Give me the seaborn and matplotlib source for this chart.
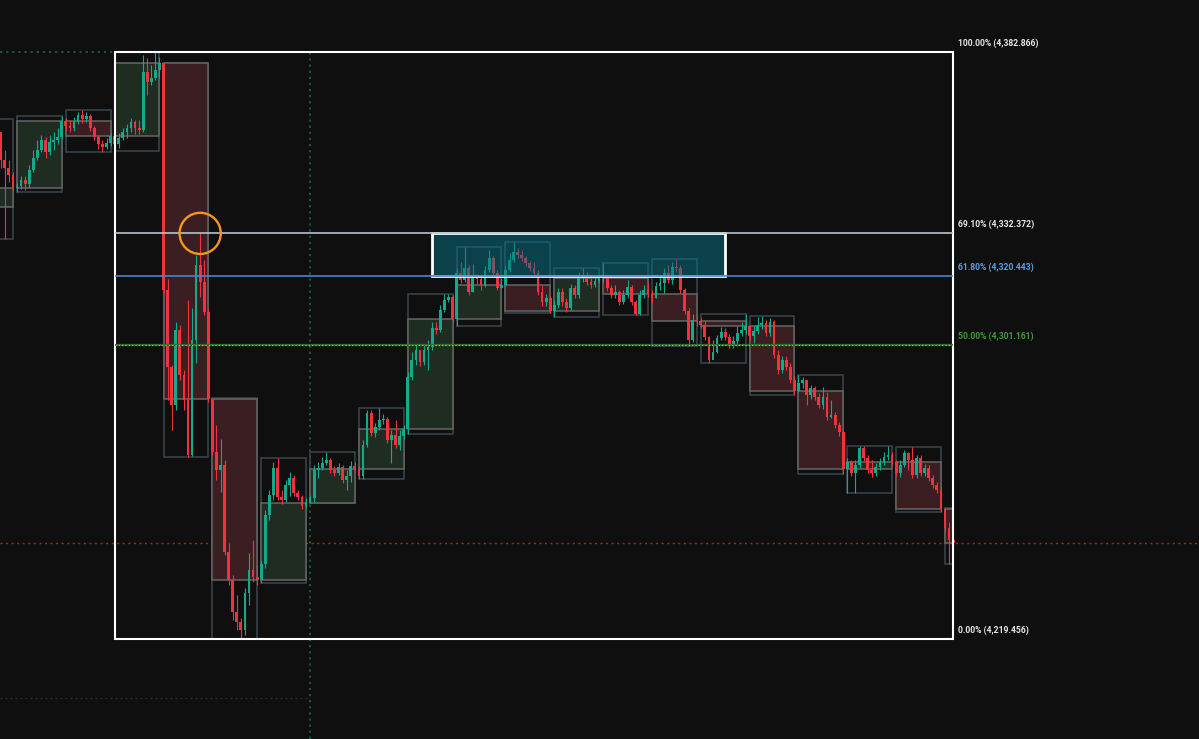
import numpy as np
import pandas as pd
import matplotlib
matplotlib.use("Agg")
import matplotlib.pyplot as plt
from matplotlib.patches import Rectangle
import seaborn as sns

# lower timeframe candles (open of each bar = previous close)
first_open = 4339.7
closes = [
    4341.7, 4343.9, 4347.8, 4351.4, 4355.6, 4352.3, 4358.4, 4360.6, 4352.8, 4350.6, 4348.6, 4345.0,
    4345.6, 4347.2, 4346.1, 4350.0, 4353.4, 4355.6, 4358.4, 4355.0, 4357.8, 4358.4, 4359.2, 4363.7,
    4362.3, 4361.7, 4363.4, 4365.3, 4364.2, 4365.1, 4361.7, 4359.2, 4357.3, 4356.4, 4357.5, 4359.5,
    4357.3, 4358.9, 4360.6, 4361.7, 4363.4, 4361.7, 4361.2, 4377.3, 4374.5, 4375.6, 4377.9, 4379.8,
    4316.6, 4295.2, 4284.6, 4305.5, 4293.0, 4286.0, 4270.7, 4302.7, 4323.6, 4318.8, 4310.5, 4286.3,
    4271.5, 4266.5, 4267.9, 4243.7, 4235.9, 4227.0, 4224.2, 4222.0, 4232.3, 4238.7, 4236.7, 4235.9,
    4240.3, 4254.0, 4259.5, 4267.1, 4259.0, 4258.2, 4262.3, 4264.3, 4260.1, 4259.0, 4256.5, 4257.3,
    4258.7, 4266.5, 4267.1, 4268.4, 4269.3, 4266.5, 4265.7, 4267.3, 4263.7, 4264.8, 4267.6, 4266.8,
    4264.8, 4273.5, 4282.4, 4276.8, 4278.5, 4280.4, 4280.7, 4274.9, 4276.2, 4273.5, 4276.0, 4277.9,
    4292.4, 4297.1, 4299.9, 4296.6, 4299.9, 4300.7, 4306.0, 4305.5, 4311.0, 4313.8, 4314.7, 4308.5,
    4321.3, 4319.4, 4322.7, 4316.1, 4320.2, 4319.7, 4318.0, 4322.2, 4325.5, 4321.3, 4317.2, 4318.0,
    4322.2, 4325.0, 4327.2, 4326.4, 4325.5, 4324.1, 4322.7, 4321.3, 4316.1, 4313.3, 4314.4, 4310.8,
    4312.4, 4316.1, 4313.3, 4311.6, 4317.2, 4315.2, 4320.0, 4320.8, 4318.8, 4318.0, 4319.1, 4320.0,
    4320.2, 4317.2, 4315.2, 4316.1, 4313.3, 4315.2, 4317.4, 4313.3, 4309.9, 4315.2, 4316.6, 4315.5,
    4314.4, 4317.7, 4318.6, 4321.3, 4319.4, 4323.0, 4322.7, 4316.6, 4310.8, 4302.7, 4308.3, 4308.0,
    4306.9, 4303.5, 4297.1, 4299.4, 4303.2, 4304.9, 4303.5, 4301.3, 4302.4, 4304.6, 4305.5, 4306.6,
    4303.8, 4305.2, 4306.9, 4307.4, 4304.6, 4307.7, 4298.5, 4294.3, 4297.1, 4295.2, 4291.6, 4288.5,
    4290.7, 4291.6, 4287.4, 4289.3, 4286.8, 4284.6, 4286.8, 4281.3, 4281.8, 4279.0, 4277.1, 4266.8,
    4268.7, 4265.7, 4267.9, 4272.6, 4269.8, 4266.5, 4265.7, 4267.3, 4268.7, 4270.1, 4270.7, 4268.7,
    4265.7, 4267.9, 4271.2, 4269.3, 4265.1, 4269.8, 4265.7, 4267.1, 4264.3, 4262.3, 4260.9, 4255.6,
    4250.4, 4247.0, 4246.2,
]
highs = [
    4343.1, 4345.0, 4349.5, 4353.4, 4358.4, 4357.0, 4364.2, 4362.6, 4355.6, 4355.6, 4352.8, 4349.5,
    4346.4, 4348.4, 4348.4, 4351.4, 4355.6, 4358.4, 4359.8, 4359.2, 4359.8, 4360.6, 4361.7, 4365.1,
    4364.5, 4363.9, 4364.8, 4366.2, 4366.7, 4366.2, 4365.6, 4362.3, 4359.8, 4358.4, 4358.9, 4360.3,
    4359.5, 4360.3, 4361.7, 4362.8, 4364.5, 4363.9, 4363.9, 4382.0, 4381.2, 4379.3, 4382.866, 4381.6,
    4379.8, 4319.7, 4295.7, 4307.7, 4306.9, 4294.3, 4313.8, 4311.6, 4326.4, 4332.4, 4325.0, 4311.6,
    4286.5, 4279.0, 4275.1, 4269.3, 4246.2, 4237.3, 4231.7, 4225.3, 4233.7, 4243.4, 4247.0, 4240.1,
    4241.4, 4255.4, 4260.9, 4268.7, 4269.8, 4260.9, 4263.7, 4265.9, 4265.1, 4260.9, 4259.5, 4258.7,
    4259.5, 4267.9, 4268.7, 4270.1, 4271.5, 4269.8, 4267.6, 4268.4, 4267.9, 4266.5, 4269.0, 4268.7,
    4267.6, 4274.9, 4283.2, 4283.2, 4279.6, 4283.8, 4282.1, 4281.3, 4277.6, 4280.4, 4277.6, 4279.0,
    4293.8, 4299.4, 4301.3, 4299.9, 4301.6, 4302.7, 4307.7, 4307.7, 4312.4, 4315.5, 4315.5, 4315.2,
    4322.7, 4324.4, 4328.6, 4323.6, 4323.9, 4321.1, 4320.5, 4323.3, 4327.8, 4326.1, 4322.2, 4320.0,
    4323.6, 4326.9, 4330.0, 4328.3, 4327.8, 4326.1, 4324.7, 4324.4, 4322.2, 4318.0, 4315.5, 4314.9,
    4313.8, 4317.2, 4317.2, 4314.4, 4318.3, 4318.0, 4321.6, 4322.7, 4321.6, 4320.5, 4320.5, 4320.8,
    4324.1, 4321.1, 4318.0, 4318.0, 4316.6, 4316.6, 4319.4, 4318.0, 4313.8, 4316.6, 4318.0, 4318.6,
    4316.6, 4318.8, 4320.2, 4322.7, 4323.6, 4324.4, 4325.2, 4323.6, 4317.2, 4311.6, 4309.9, 4309.7,
    4308.8, 4308.3, 4303.8, 4302.7, 4304.1, 4306.3, 4306.0, 4304.4, 4303.8, 4306.6, 4307.7, 4309.9,
    4306.9, 4306.6, 4309.1, 4309.4, 4308.3, 4308.8, 4308.3, 4299.9, 4298.2, 4298.2, 4296.3, 4292.7,
    4293.0, 4292.4, 4291.6, 4290.2, 4289.9, 4287.9, 4289.6, 4288.2, 4286.0, 4282.6, 4279.9, 4277.6,
    4269.8, 4269.3, 4269.3, 4273.2, 4273.2, 4270.7, 4269.3, 4268.4, 4269.8, 4271.5, 4273.2, 4271.5,
    4269.3, 4269.3, 4272.1, 4271.5, 4272.9, 4270.7, 4270.7, 4268.2, 4267.9, 4265.1, 4263.2, 4262.0,
    4255.9, 4252.0, 4248.4,
]
lows = [
    4338.9, 4340.3, 4343.1, 4346.7, 4350.6, 4350.0, 4351.4, 4355.6, 4350.6, 4330.8, 4346.7, 4343.9,
    4343.9, 4344.7, 4344.5, 4345.0, 4349.5, 4352.8, 4355.0, 4353.4, 4354.2, 4355.6, 4357.3, 4358.7,
    4361.2, 4360.6, 4360.9, 4362.8, 4363.1, 4363.4, 4360.9, 4358.4, 4355.9, 4355.0, 4355.9, 4356.7,
    4355.3, 4356.2, 4358.4, 4358.9, 4360.6, 4360.0, 4360.0, 4360.6, 4370.9, 4373.7, 4375.1, 4375.6,
    4315.8, 4286.0, 4277.6, 4283.2, 4291.6, 4283.2, 4270.1, 4270.4, 4296.3, 4314.7, 4309.7, 4285.4,
    4270.7, 4263.7, 4260.4, 4242.8, 4234.5, 4224.7, 4222.0, 4219.456, 4220.6, 4228.9, 4235.3, 4234.5,
    4235.0, 4239.2, 4252.6, 4258.2, 4258.2, 4257.0, 4257.6, 4259.3, 4259.3, 4258.2, 4255.6, 4255.9,
    4257.3, 4257.6, 4264.3, 4266.5, 4267.9, 4265.7, 4264.8, 4265.1, 4262.9, 4260.9, 4263.2, 4265.9,
    4264.0, 4264.0, 4272.9, 4276.0, 4275.7, 4277.6, 4279.3, 4274.0, 4268.4, 4272.6, 4272.1, 4275.1,
    4276.5, 4291.6, 4295.7, 4295.5, 4295.7, 4294.3, 4299.9, 4304.4, 4304.9, 4310.5, 4313.3, 4307.7,
    4306.6, 4318.6, 4318.8, 4315.2, 4316.1, 4318.3, 4316.6, 4317.4, 4321.6, 4320.5, 4316.6, 4317.2,
    4317.4, 4321.6, 4324.4, 4325.5, 4324.7, 4323.3, 4321.9, 4320.5, 4315.2, 4312.2, 4312.2, 4310.2,
    4309.1, 4311.6, 4312.2, 4310.5, 4311.0, 4314.4, 4314.4, 4318.8, 4318.0, 4317.2, 4317.4, 4318.6,
    4318.8, 4316.3, 4314.4, 4314.4, 4312.4, 4312.7, 4314.4, 4312.4, 4309.7, 4309.7, 4314.4, 4314.7,
    4313.0, 4314.4, 4316.6, 4315.8, 4318.6, 4318.3, 4321.6, 4315.8, 4309.9, 4301.0, 4302.1, 4306.6,
    4306.0, 4302.7, 4296.3, 4298.5, 4299.1, 4302.7, 4302.7, 4300.5, 4300.5, 4301.0, 4303.8, 4304.4,
    4302.7, 4301.9, 4304.4, 4305.8, 4303.8, 4303.8, 4297.7, 4293.2, 4293.5, 4294.3, 4290.7, 4287.4,
    4288.2, 4289.3, 4284.6, 4286.3, 4286.0, 4283.8, 4283.5, 4280.4, 4281.0, 4278.2, 4276.0, 4265.4,
    4260.1, 4264.8, 4260.1, 4267.1, 4269.0, 4265.7, 4264.5, 4264.8, 4266.5, 4267.9, 4269.3, 4267.9,
    4264.8, 4264.5, 4267.3, 4266.5, 4264.3, 4264.3, 4264.8, 4264.8, 4263.4, 4261.5, 4260.1, 4254.8,
    4249.2, 4240.3, 4244.8,
]
bars_per_box = 12

# fib retracement drawn on the move
fib_high = 4382.866
fib_low = 4219.456
fib_levels = [1.0, 0.691, 0.618, 0.5, 0.0]
fib_start, fib_end = 36, 242
zone_start, zone_end = 114, 186
marker_bar = 57
cursor_bar = 84
cursor_price = 4203.0

bg = "#0f0f0f"
up_col, down_col = "#14a98a", "#f0323f"

sns.set_theme(style="dark", rc={"axes.facecolor": bg, "figure.facecolor": bg})
plt.rcParams["font.family"] = ["Roboto", "DejaVu Sans"]

df = pd.DataFrame({"close": closes, "high": highs, "low": lows})
df["open"] = df["close"].shift(1).fillna(first_open)
df["bar"] = np.arange(len(df))
df["box"] = df["bar"] // bars_per_box
boxes = df.groupby("box").agg(open=("open", "first"), high=("high", "max"),
                              low=("low", "min"), close=("close", "last"),
                              start=("bar", "min"), end=("bar", "max"))

fig = plt.figure(figsize=(11.99, 7.39), dpi=100)
ax = fig.add_axes([0, 0, 1, 1])
x_lo, x_hi = 7.82, 302.4
y_lo, y_hi = 4191.6, 4397.35

# higher timeframe boxes
for _, b in boxes.iterrows():
    w = b["end"] - b["start"]
    ax.add_patch(Rectangle((b["start"], b["low"]), w, b["high"] - b["low"],
                           fill=False, ec="#3b4550", lw=1.1, zorder=1))
    rising = b["close"] >= b["open"]
    ax.add_patch(Rectangle((b["start"], min(b["open"], b["close"])), w,
                           abs(b["close"] - b["open"]),
                           fc="#1f2c21" if rising else "#3a1e21",
                           ec="#666666", lw=1.1, zorder=1.2))

# candles
is_up = df["close"] >= df["open"]
cols = np.where(is_up, up_col, down_col)
ax.vlines(df["bar"], df["low"], df["high"], colors=cols, lw=0.8, zorder=3)
ax.bar(df["bar"], (df["close"] - df["open"]).abs().clip(lower=0.25),
       bottom=df[["open", "close"]].min(axis=1), width=0.68, color=cols,
       lw=0, zorder=3)

lvl_price = {lv: fib_low + lv * (fib_high - fib_low) for lv in fib_levels}

# crosshair / price lines
ax.vlines(cursor_bar, y_lo, fib_high, color="#1b6b58", lw=1.1,
          ls=(0, (1.5, 2.5)), zorder=0.5)
ax.hlines(cursor_price, x_lo, cursor_bar, color="#183a33", lw=0.9,
          ls=(0, (1.5, 2.5)), zorder=0.5)
ax.hlines(fib_high, x_lo, fib_start, color="#1b6b58", lw=1.1,
          ls=(0, (1.5, 2.5)), zorder=0.5)
ax.axhline(closes[-1], color="#8c3a16", lw=1.0, ls=(0, (1.5, 2.5)), zorder=0.5)

# zone between 0.618 and 0.691
ax.add_patch(Rectangle((zone_start, lvl_price[0.618]), zone_end - zone_start,
                       lvl_price[0.691] - lvl_price[0.618],
                       fc=(0.03, 0.45, 0.52, 0.5), ec="white", lw=2, zorder=4))

# fib box and levels
ax.add_patch(Rectangle((fib_start, fib_low), fib_end - fib_start, fib_high - fib_low,
                       fill=False, ec="white", lw=1.5, zorder=5))
ax.hlines(lvl_price[0.691], fib_start, fib_end, color="#b8c2cc", lw=1.2, zorder=5)
ax.hlines(lvl_price[0.618], fib_start, fib_end, color="#4784cc", lw=1.2, zorder=5)
ax.hlines(lvl_price[0.5], fib_start, fib_end, color="#2f6e27", lw=1.6, zorder=5)
ax.hlines(lvl_price[0.5], fib_start, fib_end, color="#b5c94a", lw=0.8,
          ls=(0, (1, 2)), zorder=5.1)

label_cols = {1.0: "#e6e6e6", 0.691: "#e6e6e6", 0.618: "#5c9ee6",
              0.5: "#3f9a3a", 0.0: "#e6e6e6"}
for lv in fib_levels:
    ax.annotate(f"{lv:.2%} ({lvl_price[lv]:,.3f})", (fib_end, lvl_price[lv]),
                xytext=(5, 4), textcoords="offset pixels", ha="left", va="bottom",
                fontsize=6.2, fontweight="bold", color=label_cols[lv], zorder=6)

# orange marker circle
sns.scatterplot(x=[marker_bar], y=[lvl_price[0.691]], s=880, marker="o",
                facecolor="none", edgecolor="#f5961c", linewidth=1.7,
                ax=ax, zorder=6, legend=False)

ax.set_xlim(x_lo, x_hi)
ax.set_ylim(y_lo, y_hi)
ax.axis("off")
fig.savefig("out.png", dpi=100, facecolor=bg)
